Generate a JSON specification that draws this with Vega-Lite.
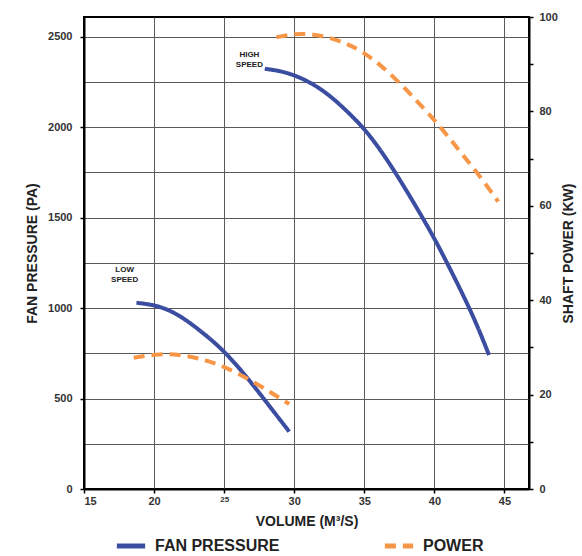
{
  "$schema": "https://vega.github.io/schema/vega-lite/v6.json",
  "width": 445,
  "height": 472,
  "autosize": {"type": "none"},
  "padding": {"left": 84, "top": 17, "right": 53, "bottom": 67},
  "background": "white",
  "config": {
    "view": {"stroke": "black", "strokeWidth": 2},
    "font": "Liberation Sans",
    "axis": {
      "labelFont": "Liberation Sans",
      "labelFontWeight": "bold",
      "labelFontSize": 11,
      "labelColor": "#333333",
      "titleFont": "Liberation Sans",
      "titleFontWeight": "bold",
      "titleFontSize": 14,
      "titleColor": "#222222",
      "domainColor": "black",
      "domainWidth": 2,
      "tickColor": "black",
      "tickWidth": 1.5,
      "tickSize": 4,
      "gridColor": "#5a5a5a",
      "gridWidth": 1
    }
  },
  "datasets": {
    "curves": [
      {"series": "FAN PRESSURE", "speed": "HIGH", "volume": 27.9, "value": 2322},
      {"series": "FAN PRESSURE", "speed": "HIGH", "volume": 29, "value": 2310},
      {"series": "FAN PRESSURE", "speed": "HIGH", "volume": 30, "value": 2287},
      {"series": "FAN PRESSURE", "speed": "HIGH", "volume": 31, "value": 2252},
      {"series": "FAN PRESSURE", "speed": "HIGH", "volume": 32, "value": 2205},
      {"series": "FAN PRESSURE", "speed": "HIGH", "volume": 33, "value": 2143},
      {"series": "FAN PRESSURE", "speed": "HIGH", "volume": 34, "value": 2070},
      {"series": "FAN PRESSURE", "speed": "HIGH", "volume": 35, "value": 1990},
      {"series": "FAN PRESSURE", "speed": "HIGH", "volume": 36, "value": 1890},
      {"series": "FAN PRESSURE", "speed": "HIGH", "volume": 37, "value": 1775},
      {"series": "FAN PRESSURE", "speed": "HIGH", "volume": 38, "value": 1650},
      {"series": "FAN PRESSURE", "speed": "HIGH", "volume": 39, "value": 1520},
      {"series": "FAN PRESSURE", "speed": "HIGH", "volume": 40, "value": 1385},
      {"series": "FAN PRESSURE", "speed": "HIGH", "volume": 41, "value": 1235},
      {"series": "FAN PRESSURE", "speed": "HIGH", "volume": 42, "value": 1080},
      {"series": "FAN PRESSURE", "speed": "HIGH", "volume": 43, "value": 915},
      {"series": "FAN PRESSURE", "speed": "HIGH", "volume": 43.9, "value": 740},
      {"series": "POWER", "speed": "HIGH", "volume": 28.74, "value": 95.7},
      {"series": "POWER", "speed": "HIGH", "volume": 29.5, "value": 96.2},
      {"series": "POWER", "speed": "HIGH", "volume": 30.5, "value": 96.5},
      {"series": "POWER", "speed": "HIGH", "volume": 31.7, "value": 96.2},
      {"series": "POWER", "speed": "HIGH", "volume": 33, "value": 95.2},
      {"series": "POWER", "speed": "HIGH", "volume": 34, "value": 94.0},
      {"series": "POWER", "speed": "HIGH", "volume": 35, "value": 92.4},
      {"series": "POWER", "speed": "HIGH", "volume": 36, "value": 90.2},
      {"series": "POWER", "speed": "HIGH", "volume": 37, "value": 87.5},
      {"series": "POWER", "speed": "HIGH", "volume": 38, "value": 84.6},
      {"series": "POWER", "speed": "HIGH", "volume": 39, "value": 81.4},
      {"series": "POWER", "speed": "HIGH", "volume": 40, "value": 78.2},
      {"series": "POWER", "speed": "HIGH", "volume": 41, "value": 74.6},
      {"series": "POWER", "speed": "HIGH", "volume": 42, "value": 70.9},
      {"series": "POWER", "speed": "HIGH", "volume": 43, "value": 67.2},
      {"series": "POWER", "speed": "HIGH", "volume": 44, "value": 63.2},
      {"series": "POWER", "speed": "HIGH", "volume": 44.55, "value": 60.9},
      {"series": "FAN PRESSURE", "speed": "LOW", "volume": 18.74, "value": 1029},
      {"series": "FAN PRESSURE", "speed": "LOW", "volume": 20.05, "value": 1017},
      {"series": "FAN PRESSURE", "speed": "LOW", "volume": 21.2, "value": 985},
      {"series": "FAN PRESSURE", "speed": "LOW", "volume": 22.3, "value": 934},
      {"series": "FAN PRESSURE", "speed": "LOW", "volume": 23.7, "value": 850},
      {"series": "FAN PRESSURE", "speed": "LOW", "volume": 25.05, "value": 759},
      {"series": "FAN PRESSURE", "speed": "LOW", "volume": 26.7, "value": 612},
      {"series": "FAN PRESSURE", "speed": "LOW", "volume": 28.26, "value": 455},
      {"series": "FAN PRESSURE", "speed": "LOW", "volume": 29.64, "value": 317},
      {"series": "POWER", "speed": "LOW", "volume": 18.55, "value": 27.8},
      {"series": "POWER", "speed": "LOW", "volume": 20.4, "value": 28.7},
      {"series": "POWER", "speed": "LOW", "volume": 22.1, "value": 28.4},
      {"series": "POWER", "speed": "LOW", "volume": 23.6, "value": 27.4},
      {"series": "POWER", "speed": "LOW", "volume": 25.05, "value": 25.9},
      {"series": "POWER", "speed": "LOW", "volume": 26.8, "value": 23.2},
      {"series": "POWER", "speed": "LOW", "volume": 28.26, "value": 20.6},
      {"series": "POWER", "speed": "LOW", "volume": 29.64, "value": 18.0}
    ],
    "labels": [
      {"label": "HIGH\nSPEED", "volume": 26.8, "value": 2400},
      {"label": "LOW\nSPEED", "volume": 17.9, "value": 1210}
    ]
  },
  "layer": [
    {
      "layer": [
        {
          "data": {"name": "curves"},
          "transform": [{"filter": "datum.series == 'FAN PRESSURE'"}],
          "mark": {"type": "line", "interpolate": "basis", "strokeWidth": 4, "strokeCap": "butt"},
          "encoding": {
            "x": {
              "field": "volume", "type": "quantitative",
              "scale": {"domain": [15, 46.75], "nice": false, "zero": false},
              "axis": {
                "title": "VOLUME (M³/S)",
                "values": [15, 17.5, 20, 22.5, 25, 27.5, 30, 32.5, 35, 37.5, 40, 42.5, 45],
                "labelExpr": "datum.value % 5 == 0 ? datum.label : ''",
                "labelFontSize": {"condition": {"test": "datum.value == 25", "value": 8}, "value": 11},
                "gridOpacity": {"condition": {"test": "datum.value % 5 == 0 && datum.value > 15", "value": 1}, "value": 0},
                "labelPadding": 2,
                "titlePadding": 8
              }
            },
            "y": {
              "field": "value", "type": "quantitative",
              "scale": {"domain": [0, 2608], "nice": false},
              "axis": {
                "title": "FAN PRESSURE (PA)",
                "format": "d",
                "values": [0, 250, 500, 750, 1000, 1250, 1500, 1750, 2000, 2250, 2500],
                "labelExpr": "datum.value % 500 == 0 ? datum.label : ''",
                "tickOpacity": {"condition": {"test": "datum.value % 500 == 0", "value": 1}, "value": 0},
                "gridOpacity": {"condition": {"test": "datum.value > 0", "value": 1}, "value": 0},
                "labelPadding": 8,
                "titlePadding": 8
              }
            },
            "detail": {"field": "speed"},
            "color": {
              "field": "series", "type": "nominal",
              "scale": {"domain": ["FAN PRESSURE", "POWER"], "range": ["#3B4DA0", "#F79646"]},
              "legend": {
                "title": null,
                "orient": "none",
                "direction": "horizontal",
                "legendX": 30,
                "legendY": 512,
                "symbolType": "stroke",
                "symbolSize": 800,
                "symbolStrokeWidth": 5,
                "labelFont": "Liberation Sans",
                "labelFontWeight": "bold",
                "labelFontSize": 16,
                "labelColor": "#222222",
                "columnPadding": 94,
                "labelOffset": 7
              }
            },
            "strokeDash": {
              "field": "series", "type": "nominal",
              "scale": {"domain": ["FAN PRESSURE", "POWER"], "range": [[1, 0], [11, 7]]},
              "legend": null
            }
          }
        },
        {
          "data": {"name": "labels"},
          "mark": {"type": "text", "lineBreak": "\n", "fontSize": 8, "fontWeight": "bold", "font": "Liberation Sans", "color": "#222222", "align": "center", "baseline": "middle", "lineHeight": 10},
          "encoding": {
            "x": {"field": "volume", "type": "quantitative"},
            "y": {"field": "value", "type": "quantitative"},
            "text": {"field": "label"}
          }
        }
      ]
    },
    {
      "data": {"name": "curves"},
      "transform": [{"filter": "datum.series == 'POWER'"}],
      "mark": {"type": "line", "interpolate": "basis", "strokeWidth": 4, "strokeCap": "butt"},
      "encoding": {
        "x": {"field": "volume", "type": "quantitative"},
        "y": {
          "field": "value", "type": "quantitative",
          "scale": {"domain": [0, 100], "nice": false},
          "axis": {
            "orient": "right",
            "title": "SHAFT POWER (KW)",
            "titleAngle": 270,
            "values": [0, 10, 20, 30, 40, 50, 60, 70, 80, 90, 100],
            "labelExpr": "datum.value % 20 == 0 ? datum.label : ''",
            "grid": false,
            "labelPadding": 6,
            "titlePadding": 18
          }
        },
        "detail": {"field": "speed"},
        "color": {"field": "series", "type": "nominal"},
        "strokeDash": {"field": "series", "type": "nominal"}
      }
    }
  ],
  "resolve": {"scale": {"y": "independent"}}
}
